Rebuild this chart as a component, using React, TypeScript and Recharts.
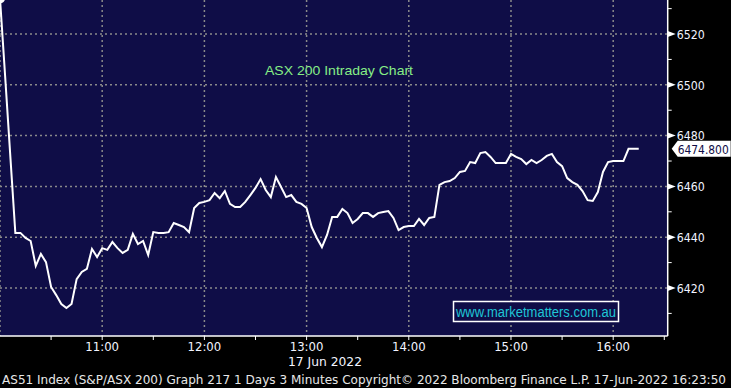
import React from 'react';
import { LineChart, Line, XAxis, YAxis, CartesianGrid, ReferenceDot } from 'recharts';

// AS51 3-minute closes from 10:00, 17 Jun 2022
const closes = [
  6534.0, 6503.5, 6472.5, 6441.7, 6441.7, 6439.7, 6438.5, 6428.7, 6433.4, 6430.2,
  6420.4, 6417.2, 6413.7, 6412.1, 6413.7, 6423.5, 6426.3, 6427.5, 6435.4, 6432.2,
  6435.7, 6435.0, 6438.1, 6435.7, 6433.8, 6435.0, 6441.3, 6437.3, 6438.5, 6433.0,
  6442.0, 6441.7, 6441.7, 6442.0, 6445.6, 6444.8, 6444.0, 6442.0, 6451.5, 6453.5,
  6453.9, 6454.6, 6457.4, 6455.4, 6458.2, 6453.1, 6451.9, 6451.9, 6453.9, 6456.6,
  6459.4, 6462.9, 6458.6, 6455.8, 6463.7, 6459.8, 6455.8, 6456.6, 6453.9, 6453.1,
  6451.5, 6444.0, 6439.7, 6436.1, 6440.9, 6448.0, 6448.0, 6451.1, 6449.5, 6445.6,
  6447.2, 6449.5, 6449.5, 6448.0, 6449.5, 6449.9, 6450.3, 6447.6, 6442.8, 6444.0,
  6444.4, 6444.4, 6447.2, 6444.8, 6447.6, 6448.0, 6460.6, 6461.7, 6462.1, 6463.3,
  6465.7, 6466.1, 6469.6, 6469.2, 6473.1, 6473.5, 6471.6, 6469.2, 6469.2, 6469.2,
  6472.8, 6471.6, 6470.8, 6468.8, 6470.4, 6469.2, 6470.4, 6472.0, 6472.8, 6469.6,
  6468.0, 6463.3, 6461.7, 6460.6, 6458.2, 6454.6, 6454.3, 6457.8, 6465.7, 6469.6,
  6470.0, 6470.0, 6470.0, 6474.8, 6474.8, 6474.8,
];
const barMinutes = 3;

// minutes after 10:00
const timeTicks = [30, 60, 90, 120, 150, 180, 210, 240, 270, 300, 330, 360, 390];
const hourLabels: Record<number, string> = {
  60: '11:00', 120: '12:00', 180: '13:00', 240: '14:00', 300: '15:00', 360: '16:00',
};
const timeGrid = [0, 60, 120, 180, 240, 300, 360];
const priceTicks = [6410, 6420, 6430, 6440, 6450, 6460, 6470, 6480, 6490, 6500, 6510, 6520, 6530];
const priceGrid = [6420, 6440, 6460, 6480, 6500, 6520];
const lastPrice = 6474.8;

const title = 'ASX 200 Intraday Chart';
const site = 'www.marketmatters.com.au';
const dateLabel = '17 Jun 2022';
const footer =
  'AS51 Index (S&P/ASX 200) Graph 217 1 Days 3 Minutes  Copyright\u00a9 2022 Bloomberg Finance L.P.   17-Jun-2022 16:23:50';

const data = closes.map((v, i) => ({ t: i * barMinutes, price: v }));

const W = 731;
const H = 388;
const NARROW = '"Liberation Sans Narrow", "DejaVu Sans Condensed", "Arial Narrow", sans-serif';
const NAVY = '#0f0d47';

const PriceTick = (props: any) => {
  const { x, y, payload } = props;
  const v = payload.value;
  if (v % 20 !== 0) return null;
  const ax = x - 6; // axis line
  return (
    <g>
      <polygon points={`${ax},${y - 3} ${ax + 8},${y} ${ax},${y + 3}`} fill="#ffffff" />
      <text x={ax + 9} y={y} dy="0.36em" fill="#f2f4ff" fontSize={13} fontFamily={NARROW}
        textLength={28} lengthAdjust="spacingAndGlyphs">
        {v}
      </text>
    </g>
  );
};

const LastPriceTag = (props: any) => {
  const { cx, cy } = props;
  const x0 = cx + 4;
  return (
    <g>
      <polygon
        points={`${x0},${cy} ${x0 + 6},${cy - 8} ${x0 + 59},${cy - 8} ${x0 + 59},${cy + 8} ${x0 + 6},${cy + 8}`}
        fill="#ffffff"
      />
      <text x={x0 + 6} y={cy} dy="0.36em" fill={NAVY} fontSize={13} fontFamily={NARROW}
        textLength={51} lengthAdjust="spacingAndGlyphs">
        {lastPrice.toFixed(3)}
      </text>
    </g>
  );
};

export default function App() {
  return (
    <div style={{ position: 'absolute', left: 0, top: 0, width: W, height: H, background: '#000' }}>
      <LineChart width={W} height={H} data={data} margin={{ top: 0, right: 0, bottom: 22, left: 0 }}>
        <CartesianGrid
          fill={NAVY}
          stroke="#8a8a8a"
          strokeWidth={1.5}
          strokeDasharray="2 3"
          horizontalValues={priceGrid}
          verticalValues={timeGrid}
        />
        <XAxis
          dataKey="t"
          type="number"
          domain={[0, 392]}
          ticks={timeTicks}
          tickFormatter={(v: number) => hourLabels[v] || ''}
          height={30}
          tickSize={4}
          axisLine={{ stroke: '#ffffff', strokeWidth: 1.5 }}
          tickLine={{ stroke: '#ffffff' }}
          tick={{ fill: '#f2f4ff', fontSize: 13, fontFamily: NARROW }}
          interval={0}
          allowDataOverflow
        />
        <YAxis
          orientation="right"
          type="number"
          domain={[6401.1, 6533.4]}
          ticks={priceTicks}
          width={63.3}
          tickSize={4}
          axisLine={{ stroke: '#ffffff', strokeWidth: 1.5 }}
          tickLine={{ stroke: '#ffffff' }}
          tick={<PriceTick />}
          interval={0}
          allowDataOverflow
        />
        <Line
          type="linear"
          dataKey="price"
          stroke="#ffffff"
          strokeWidth={2}
          dot={false}
          isAnimationActive={false}
        />
        <ReferenceDot x={392} y={lastPrice} ifOverflow="visible" shape={<LastPriceTag />} />
      </LineChart>
      <svg
        width={W}
        height={H}
        style={{ position: 'absolute', left: 0, top: 0, pointerEvents: 'none' }}
      >
        <text x={265} y={75} fill="#86ee86" fontSize={13} fontFamily='"Liberation Sans", Arial, sans-serif'
          textLength={148} lengthAdjust="spacingAndGlyphs">
          {title}
        </text>
        <rect x={453.5} y={301.5} width={165} height={20} fill={NAVY} stroke="#ffffff" strokeWidth={1.5} />
        <text x={456} y={317} fill="#1fc6d6" fontSize={14} fontFamily='"Liberation Sans", Arial, sans-serif'
          textLength={160} lengthAdjust="spacingAndGlyphs">
          {site}
        </text>
        <text x={325} y={366} textAnchor="middle" fill="#f2f4ff" fontSize={13} fontFamily={NARROW}
          textLength={74} lengthAdjust="spacingAndGlyphs">
          {dateLabel}
        </text>
        <text x={2} y={384} fill="#e8e8e8" fontSize={13} fontFamily={NARROW} textLength={724}
          lengthAdjust="spacingAndGlyphs">
          {footer}
        </text>
      </svg>
    </div>
  );
}
